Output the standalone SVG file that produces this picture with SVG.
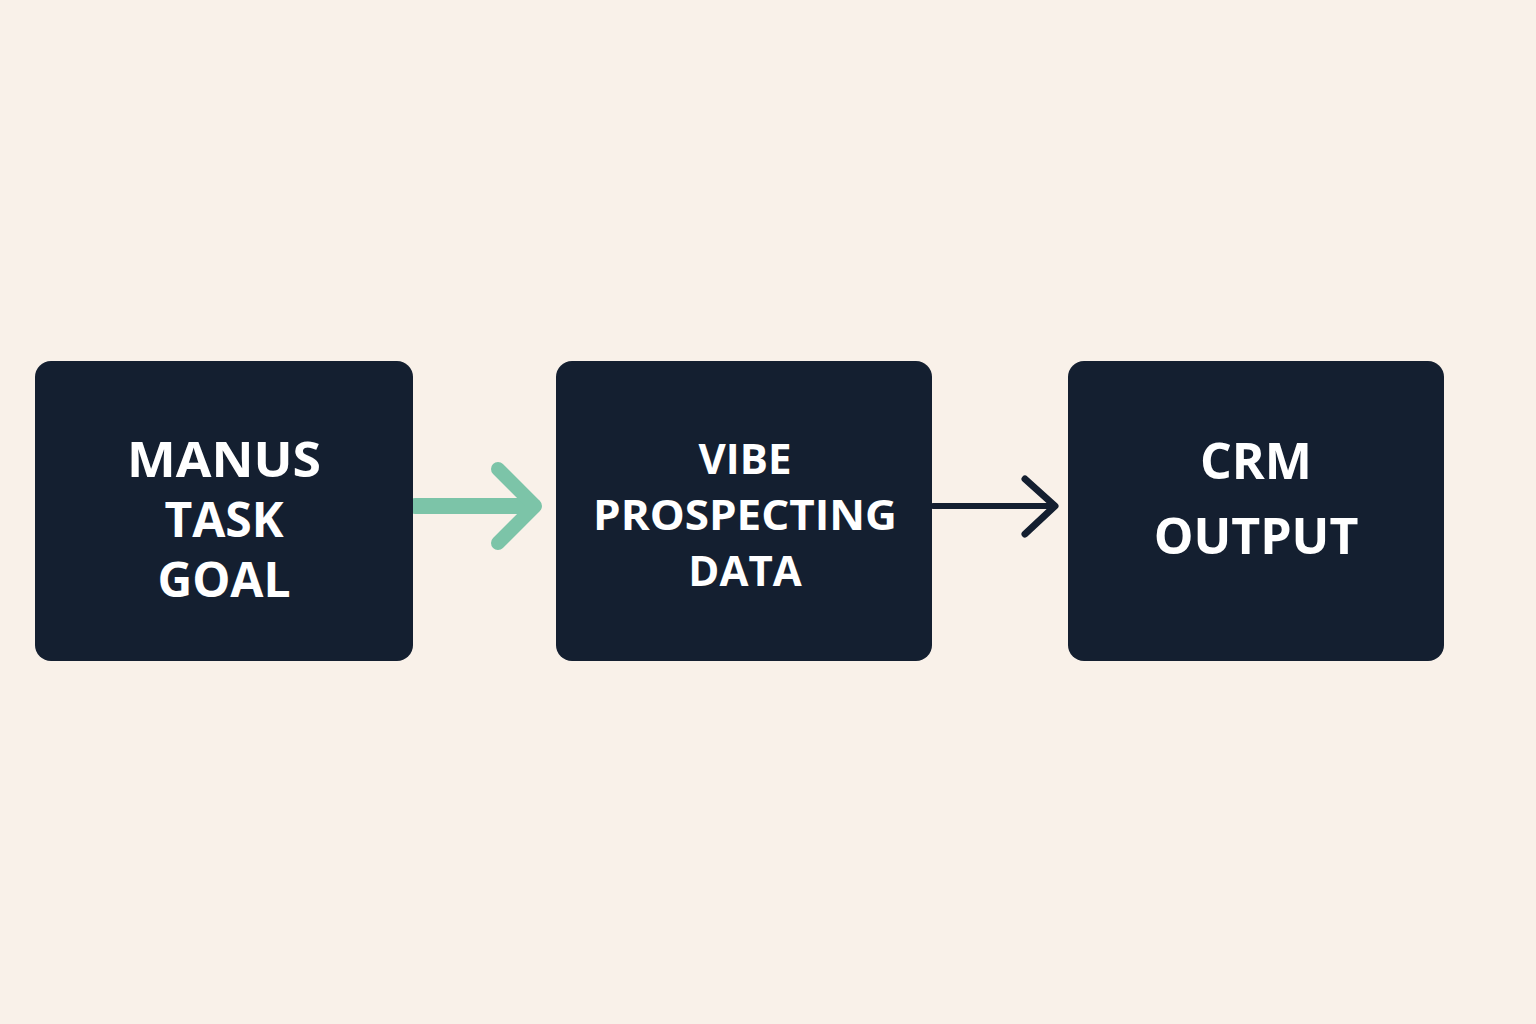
<svg xmlns="http://www.w3.org/2000/svg" width="1536" height="1024" viewBox="0 0 1536 1024">
<style>
.box{fill:#141F30}
.t{fill:#ffffff;font-family:"Open Sans","Liberation Sans",sans-serif;font-weight:700;text-anchor:middle}
</style>
<rect width="1536" height="1024" fill="#F9F1E9"/>
<g id="connectors" fill="none" stroke-linecap="round" stroke-linejoin="round">
<path d="M415 506 H533" stroke="#7CC4A8" stroke-width="16"/>
<path d="M498 469 L535 506 L498 543" stroke="#7CC4A8" stroke-width="14"/>
<path d="M933 506 H1053" stroke="#141F30" stroke-width="6"/>
<path d="M1025 479 L1055 506 L1025 534" stroke="#141F30" stroke-width="7"/>
</g>
<g id="node-manus">
<rect class="box" x="35" y="361" width="378" height="300" rx="16"/>
<text class="t" font-size="48" x="224" y="477" textLength="194" lengthAdjust="spacingAndGlyphs">MANUS</text>
<text class="t" font-size="48" x="224" y="537">TASK</text>
<text class="t" font-size="48" x="224" y="597">GOAL</text>
</g>
<g id="node-vibe">
<rect class="box" x="556" y="361" width="376" height="300" rx="16"/>
<text class="t" font-size="42" x="745" y="474">VIBE</text>
<text class="t" font-size="42" x="745" y="530" textLength="304" lengthAdjust="spacingAndGlyphs">PROSPECTING</text>
<text class="t" font-size="42" x="745" y="586">DATA</text>
</g>
<g id="node-crm">
<rect class="box" x="1068" y="361" width="376" height="300" rx="16"/>
<text class="t" font-size="50" x="1256" y="479">CRM</text>
<text class="t" font-size="50" x="1256" y="554">OUTPUT</text>
</g>
</svg>
